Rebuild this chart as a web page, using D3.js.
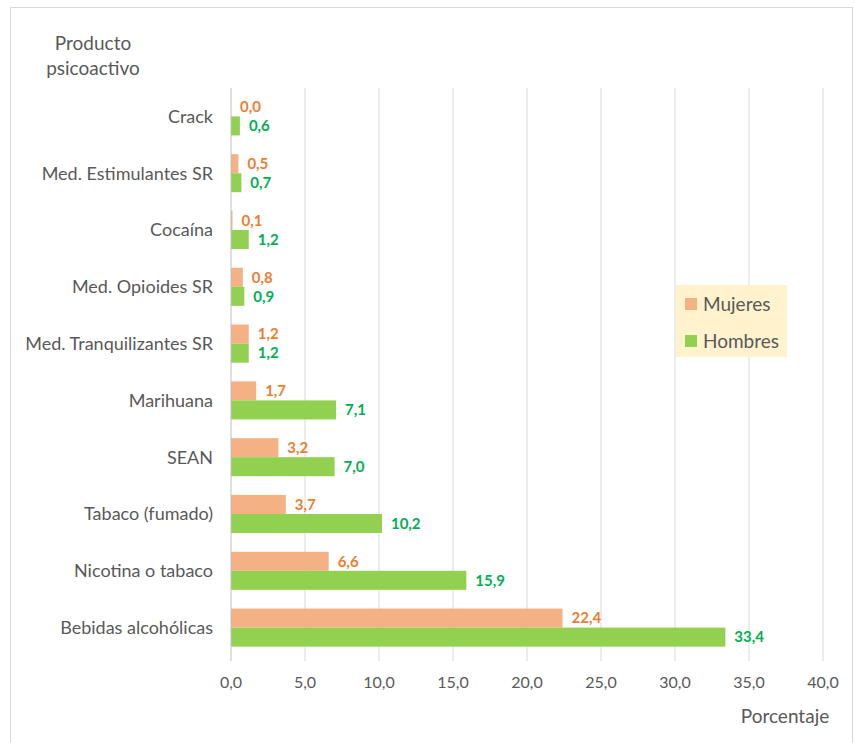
<!DOCTYPE html>
<html>
<head>
<meta charset="utf-8">
<script src="https://cdn.jsdelivr.net/npm/d3@7"></script>
<style>
  body { margin: 0; background: #fff; }
  text { font-family: Lato, "Open Sans", sans-serif; }
</style>
</head>
<body>
<div id="wrapper"></div>
<script>
const categories = ["Crack", "Med. Estimulantes SR", "Cocaína", "Med. Opioides SR",
  "Med. Tranquilizantes SR", "Marihuana", "SEAN", "Tabaco (fumado)",
  "Nicotina o tabaco", "Bebidas alcohólicas"]
const mujeres = [0.0, 0.5, 0.1, 0.8, 1.2, 1.7, 3.2, 3.7, 6.6, 22.4]
const hombres = [0.6, 0.7, 1.2, 0.9, 1.2, 7.1, 7.0, 10.2, 15.9, 33.4]
const series = ["Mujeres", "Hombres"]
const xTicks = [0, 5, 10, 15, 20, 25, 30, 35, 40]

const fillColors = { Mujeres: "#F4B183", Hombres: "#92D050" }
const labelColors = { Mujeres: "#ED7D31", Hombres: "#00B050" }

const dataset = categories.map((c, i) => ({ cat: c, Mujeres: mujeres[i], Hombres: hombres[i] }))
const fmt = v => v.toFixed(1).replace(".", ",")

const dimensions = {
  width: 855, height: 743,
  margin: { top: 88, right: 32, bottom: 87, left: 231 },
}
dimensions.boundedWidth = dimensions.width - dimensions.margin.left - dimensions.margin.right
dimensions.boundedHeight = dimensions.height - dimensions.margin.top - dimensions.margin.bottom

const wrapper = d3.select("#wrapper").append("svg")
  .attr("width", dimensions.width)
  .attr("height", dimensions.height)

// outer frame
wrapper.append("rect")
  .attr("x", 10.5).attr("y", 7.5)
  .attr("width", 842).attr("height", 740)
  .attr("fill", "none").attr("stroke", "#D9D9D9")

const bounds = wrapper.append("g")
  .attr("transform", `translate(${dimensions.margin.left},${dimensions.margin.top})`)

const xScale = d3.scaleLinear().domain([0, 40]).range([0, dimensions.boundedWidth])
const yScale = d3.scaleBand().domain(categories).range([0, dimensions.boundedHeight])
  .paddingInner(0.33).paddingOuter(0.165)
const subScale = d3.scaleBand().domain(series).range([0, yScale.bandwidth()])

// gridlines
bounds.append("g").selectAll("line")
  .data(xTicks.slice(1))
  .join("line")
  .attr("x1", d => xScale(d)).attr("x2", d => xScale(d))
  .attr("y1", 0).attr("y2", dimensions.boundedHeight + 5)
  .attr("stroke", "#D9D9D9").attr("stroke-width", 1)

// bars
const groups = bounds.append("g").selectAll("g")
  .data(dataset)
  .join("g")
  .attr("transform", d => `translate(0,${yScale(d.cat)})`)

groups.selectAll("rect")
  .data(d => series.map(s => ({ s, v: d[s] })))
  .join("rect")
  .attr("x", 0)
  .attr("y", d => subScale(d.s))
  .attr("width", d => xScale(d.v))
  .attr("height", subScale.bandwidth())
  .attr("fill", d => fillColors[d.s])

groups.selectAll("text")
  .data(d => series.map(s => ({ s, v: d[s] })))
  .join("text")
  .attr("x", d => xScale(d.v) + 9)
  .attr("y", d => subScale(d.s) + subScale.bandwidth() / 2)
  .attr("dy", "0.35em")
  .attr("fill", d => labelColors[d.s])
  .style("font-size", "15px")
  .style("font-weight", "bold")
  .text(d => fmt(d.v))

// y axis line
bounds.append("line")
  .attr("x1", 0).attr("x2", 0)
  .attr("y1", 0).attr("y2", dimensions.boundedHeight + 5)
  .attr("stroke", "#BFBFBF")

// category labels
bounds.append("g").selectAll("text")
  .data(categories)
  .join("text")
  .attr("x", -18)
  .attr("y", d => yScale(d) + yScale.bandwidth() / 2)
  .attr("dy", "0.35em")
  .attr("text-anchor", "end")
  .attr("fill", "#595959")
  .style("font-size", "18px")
  .text(d => d)

// x tick labels
bounds.append("g").selectAll("text")
  .data(xTicks)
  .join("text")
  .attr("x", d => xScale(d))
  .attr("y", dimensions.boundedHeight + 32)
  .attr("text-anchor", "middle")
  .attr("fill", "#595959")
  .style("font-size", "16px")
  .text(d => fmt(d))

wrapper.append("text")
  .attr("x", 785).attr("y", 723)
  .attr("text-anchor", "middle")
  .attr("fill", "#595959")
  .style("font-size", "19px")
  .text("Porcentaje")

const titleLines = ["Producto", "psicoactivo"]
wrapper.append("g").selectAll("text")
  .data(titleLines)
  .join("text")
  .attr("x", 93)
  .attr("y", (d, i) => 50 + i * 25)
  .attr("text-anchor", "middle")
  .attr("fill", "#595959")
  .style("font-size", "19px")
  .text(d => d)

// legend
const legend = wrapper.append("g").attr("transform", "translate(676,285)")
legend.append("rect")
  .attr("width", 111).attr("height", 72)
  .attr("fill", "#FFF2CC")
legend.selectAll("g")
  .data(series)
  .join("g")
  .attr("transform", (d, i) => `translate(9,${19 + i * 37})`)
  .call(g => {
    g.append("rect").attr("x", 0).attr("y", -6).attr("width", 12).attr("height", 12)
      .attr("fill", d => fillColors[d])
    g.append("text").attr("x", 18).attr("dy", "0.35em")
      .attr("fill", "#595959").style("font-size", "19px")
      .text(d => d)
  })
</script>
</body>
</html>
